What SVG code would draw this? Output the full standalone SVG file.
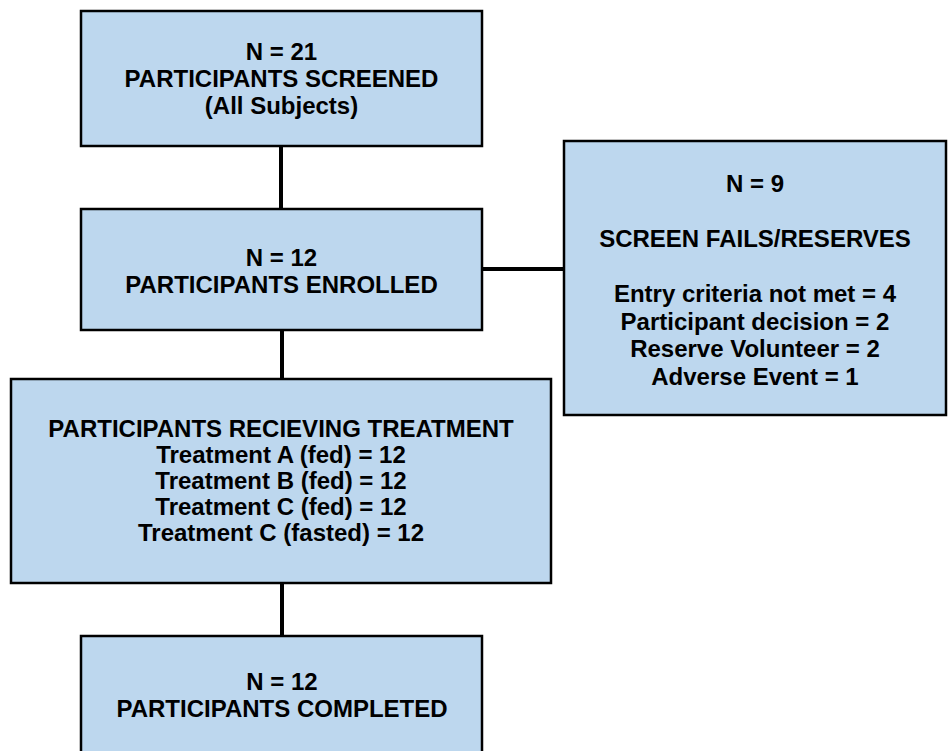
<svg xmlns="http://www.w3.org/2000/svg" width="948" height="751" viewBox="0 0 948 751">
<style>
.box{fill:#BDD7EE;stroke:#000;stroke-width:2.5}
.t{font-family:"Liberation Sans",Arial,sans-serif;font-weight:bold;font-size:24px;fill:#000;text-anchor:middle}
.c{stroke:#000;stroke-width:4;fill:none}
</style>
<rect width="948" height="751" fill="#fff"/>
<g id="connectors">
<line class="c" x1="281" y1="146" x2="281" y2="209"/>
<line class="c" x1="482" y1="269" x2="564" y2="269"/>
<line class="c" x1="282" y1="330" x2="282" y2="379"/>
<line class="c" x1="282" y1="583" x2="282" y2="636"/>
</g>
<g id="screened">
<rect class="box" x="81" y="11" width="401" height="135"/>
<text class="t" x="281.5" y="60">N = 21</text>
<text class="t" x="281.5" y="87">PARTICIPANTS SCREENED</text>
<text class="t" x="281.5" y="114">(All Subjects)</text>
</g>
<g id="enrolled">
<rect class="box" x="81" y="209" width="401" height="121"/>
<text class="t" x="281.5" y="265.5">N = 12</text>
<text class="t" x="281.5" y="292.5">PARTICIPANTS ENROLLED</text>
</g>
<g id="screenfails">
<rect class="box" x="564" y="141" width="382" height="274"/>
<text class="t" x="755" y="192">N = 9</text>
<text class="t" x="755" y="247">SCREEN FAILS/RESERVES</text>
<text class="t" x="755" y="302">Entry criteria not met = 4</text>
<text class="t" x="755" y="329.5">Participant decision = 2</text>
<text class="t" x="755" y="357">Reserve Volunteer = 2</text>
<text class="t" x="755" y="384.5">Adverse Event = 1</text>
</g>
<g id="treatment">
<rect class="box" x="11" y="379" width="540" height="204"/>
<text class="t" x="281" y="437">PARTICIPANTS RECIEVING TREATMENT</text>
<text class="t" x="281" y="463">Treatment A (fed) = 12</text>
<text class="t" x="281" y="489">Treatment B (fed) = 12</text>
<text class="t" x="281" y="515">Treatment C (fed) = 12</text>
<text class="t" x="281" y="541">Treatment C (fasted) = 12</text>
</g>
<g id="completed">
<rect class="box" x="81" y="636" width="401" height="130"/>
<text class="t" x="282" y="690">N = 12</text>
<text class="t" x="282" y="717">PARTICIPANTS COMPLETED</text>
</g>
</svg>
